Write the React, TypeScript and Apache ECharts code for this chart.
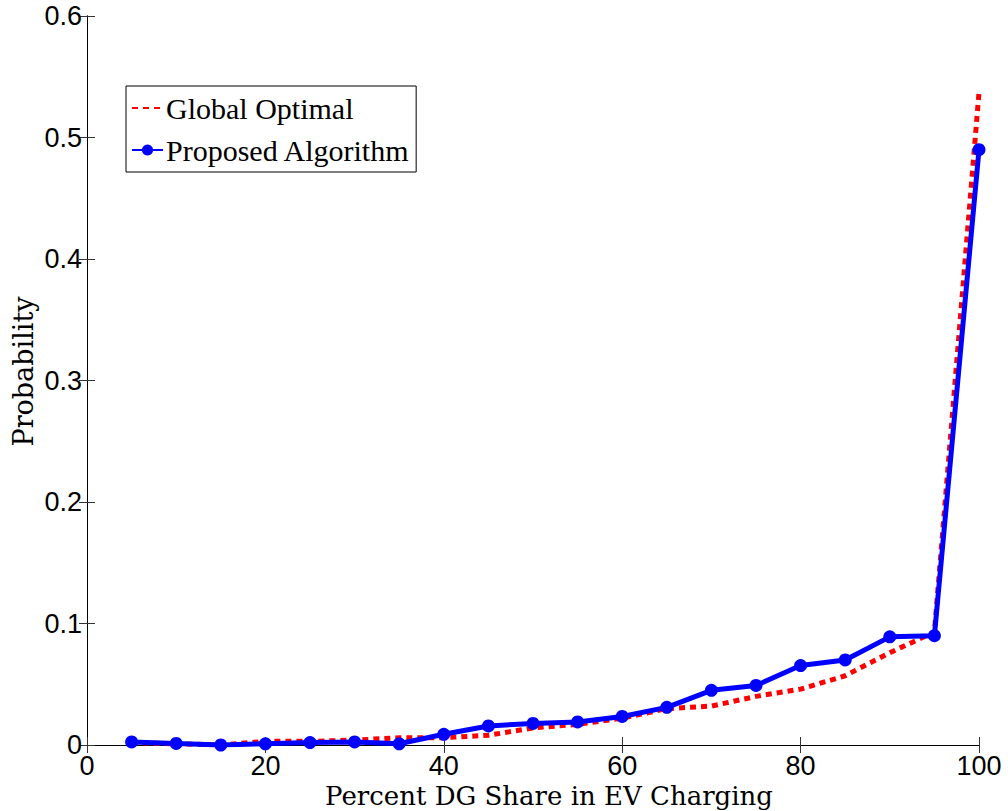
import React, { useEffect, useRef } from "react";
import * as echarts from "echarts";

const xValues = [5, 10, 15, 20, 25, 30, 35, 40, 45, 50, 55, 60, 65, 70, 75, 80, 85, 90, 95, 100];
const globalOptimal = [0.002, 0.001, 0.0, 0.003, 0.003, 0.004, 0.006, 0.006, 0.008, 0.014, 0.017, 0.022, 0.030, 0.032, 0.040, 0.046, 0.057, 0.076, 0.093, 0.537];
const proposed = [0.0025, 0.0013, 0.0, 0.001, 0.002, 0.0025, 0.001, 0.0088, 0.0157, 0.0177, 0.019, 0.0235, 0.031, 0.045, 0.049, 0.0654, 0.070, 0.089, 0.090, 0.490];
const seriesNames = ["Global Optimal", "Proposed Algorithm"];
const xAxisName = "Percent DG Share in EV Charging";
const yAxisName = "Probability";

export default function App() {
  const ref = useRef<HTMLDivElement>(null);
  useEffect(() => {
    if (!ref.current) return;
    const chart = echarts.init(ref.current, undefined, { renderer: "svg" });
    const tickFont = { fontFamily: "Liberation Sans, Arial, sans-serif", fontSize: 27, color: "#000" };
    const nameFont = { fontFamily: "DejaVu Serif, serif", fontSize: 27, color: "#000" };
    const pair = (ys: number[]) => xValues.map((x, i) => [x, ys[i]]);
    chart.setOption({
      animation: false,
      backgroundColor: "#fff",
      grid: { left: 87, right: 29, top: 16, bottom: 66, containLabel: false, outerBoundsMode: "none" },
      legend: {
        orient: "vertical",
        left: 126,
        top: 86,
        backgroundColor: "#fff",
        borderColor: "#000",
        borderWidth: 1,
        borderRadius: 0,
        padding: [7, 6, 7, 5],
        itemGap: 12,
        itemWidth: 31,
        itemHeight: 14,
        textStyle: { fontFamily: "Liberation Serif, Times New Roman, serif", fontSize: 30, color: "#000", padding: [0, 0, 0, -2] },
        data: [
          { name: seriesNames[0], itemStyle: { opacity: 0 } },
          { name: seriesNames[1] },
        ],
      },
      xAxis: [
        {
          type: "value",
          min: 0,
          max: 100,
          interval: 20,
          position: "bottom",
          name: xAxisName,
          nameLocation: "middle",
          nameGap: 38,
          nameMoveOverlap: false,
          nameTextStyle: { ...nameFont, fontSize: 26, lineHeight: 26, padding: [0, 0, 0, 32] },
          axisLine: { show: true, lineStyle: { color: "#000", width: 1 } },
          axisTick: { show: true, inside: true, length: 8, lineStyle: { color: "#333" } },
          axisLabel: { ...tickFont, lineHeight: 22, margin: 10 },
          splitLine: { show: false },
        },
        {
          type: "value",
          min: 0,
          max: 100,
          interval: 20,
          position: "top",
          axisLine: { show: true, lineStyle: { color: "#000", width: 1 } },
          axisTick: { show: true, inside: true, length: 8, lineStyle: { color: "#333" } },
          axisLabel: { show: false },
          splitLine: { show: false },
        },
      ],
      yAxis: [
        {
          type: "value",
          min: 0,
          max: 0.6,
          interval: 0.1,
          position: "left",
          name: yAxisName,
          nameLocation: "middle",
          nameGap: 50,
          nameMoveOverlap: false,
          nameTextStyle: { ...nameFont, padding: [0, 0, 0, 18] },
          axisLine: { show: true, lineStyle: { color: "#000", width: 1 } },
          axisTick: { show: true, inside: true, length: 8, lineStyle: { color: "#333" } },
          axisLabel: { ...tickFont, margin: 5 },
          splitLine: { show: false },
        },
        {
          type: "value",
          min: 0,
          max: 0.6,
          interval: 0.1,
          position: "right",
          axisLine: { show: true, lineStyle: { color: "#000", width: 1 } },
          axisTick: { show: true, inside: true, length: 8, lineStyle: { color: "#333" } },
          axisLabel: { show: false },
          splitLine: { show: false },
        },
      ],
      series: [
        {
          name: seriesNames[0],
          type: "line",
          data: pair(globalOptimal),
          showSymbol: false,
          symbol: "none",
          lineStyle: { color: "#ff0000", width: 5, type: [6, 5] },
          itemStyle: { color: "#ff0000" },
          z: 2,
        },
        {
          name: seriesNames[1],
          type: "line",
          data: pair(proposed),
          symbol: "circle",
          symbolSize: 13,
          lineStyle: { color: "#0000ff", width: 5 },
          itemStyle: { color: "#0000ff" },
          z: 3,
        },
      ],
    });
    return () => chart.dispose();
  }, []);
  return <div ref={ref} style={{ position: "fixed", left: 0, top: 0, width: 1008, height: 811 }} />;
}
